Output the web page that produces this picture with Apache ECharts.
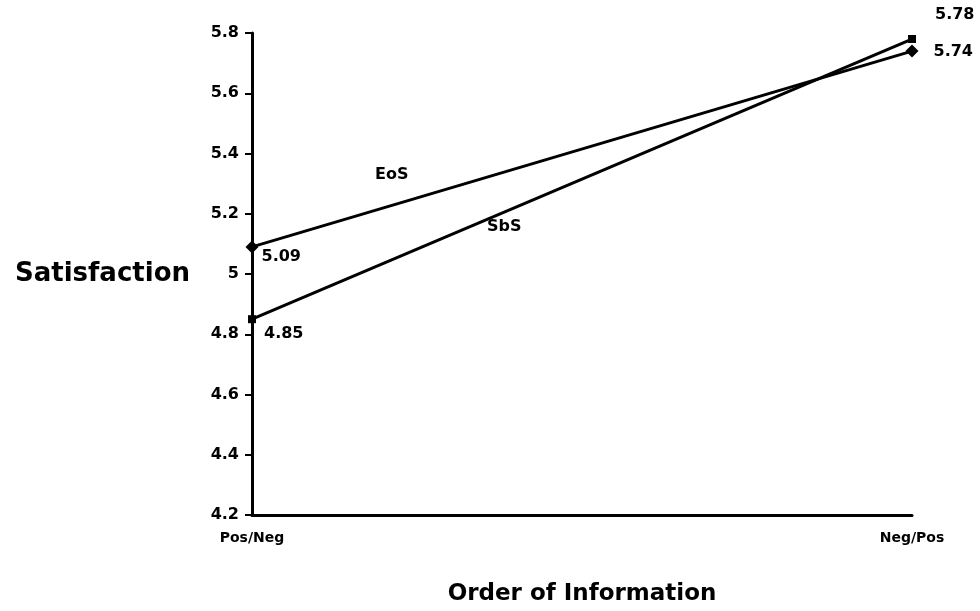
<!DOCTYPE html>
<html>
<head>
<meta charset="utf-8">
<script src="https://cdn.jsdelivr.net/npm/echarts@6/dist/echarts.min.js"></script>
<style>
  html, body { margin: 0; padding: 0; background: #fff; }
  #main { width: 980px; height: 611px; }
</style>
</head>
<body>
<div id="main"></div>
<script>
// 数据
var categories = ['Pos/Neg', 'Neg/Pos'];
var eosValues = [5.09, 5.74];
var sbsValues = [4.85, 5.78];
var yTicks = [4.2, 4.4, 4.6, 4.8, 5, 5.2, 5.4, 5.6, 5.8];

var chart = echarts.init(document.getElementById('main'));
var font = '"DejaVu Sans", sans-serif';

var option = {
    backgroundColor: '#fff',
    animation: false,
    grid: {
        left: 252,
        right: 68,
        top: 33,
        bottom: 96,
        outerBoundsMode: 'none'
    },
    xAxis: {
        type: 'category',
        data: categories,
        boundaryGap: false,
        axisLine: { lineStyle: { color: '#000', width: 3 } },
        axisTick: { show: false },
        axisLabel: {
            color: '#000',
            fontFamily: font,
            fontWeight: 'bold',
            fontSize: 14,
            margin: 16
        },
        name: 'Order of Information',
        nameLocation: 'middle',
        nameGap: 68,
        nameTextStyle: {
            color: '#000',
            fontFamily: font,
            fontWeight: 'bold',
            fontSize: 23
        }
    },
    yAxis: {
        type: 'value',
        min: yTicks[0],
        max: yTicks[yTicks.length - 1],
        interval: 0.2,
        splitLine: { show: false },
        axisLine: { show: true, lineStyle: { color: '#000', width: 3 } },
        axisTick: { show: true, length: 7, lineStyle: { color: '#000', width: 2 } },
        axisLabel: {
            color: '#000',
            fontFamily: font,
            fontWeight: 'bold',
            fontSize: 16,
            margin: 13,
            formatter: function (v) {
                return String(Math.round(v * 10) / 10);
            }
        },
        name: 'Satisfaction',
        nameLocation: 'middle',
        nameRotate: 0,
        nameGap: 62,
        nameTextStyle: {
            color: '#000',
            fontFamily: font,
            fontWeight: 'bold',
            fontSize: 26
        }
    },
    series: [
        {
            name: 'EoS',
            type: 'line',
            data: eosValues,
            symbol: 'diamond',
            symbolSize: 13,
            lineStyle: { color: '#000', width: 3 },
            itemStyle: { color: '#000' },
            label: {
                show: true,
                position: 'right',
                color: '#000',
                fontFamily: font,
                fontWeight: 'bold',
                fontSize: 16,
                formatter: function (p) { return p.value.toFixed(2); }
            },
            labelLayout: function (p) {
                return p.dataIndex === 0 ? { dx: -2, dy: 10 } : { dx: 10, dy: 1 };
            }
        },
        {
            name: 'SbS',
            type: 'line',
            data: sbsValues,
            symbol: 'rect',
            symbolSize: 8,
            lineStyle: { color: '#000', width: 3 },
            itemStyle: { color: '#000' },
            label: {
                show: true,
                position: 'right',
                color: '#000',
                fontFamily: font,
                fontWeight: 'bold',
                fontSize: 16,
                formatter: function (p) { return p.value.toFixed(2); }
            },
            labelLayout: function (p) {
                return p.dataIndex === 0 ? { dx: 3, dy: 15 } : { dx: 14, dy: -24 };
            }
        }
    ],
    graphic: [
        {
            type: 'text',
            left: 375,
            top: 167,
            style: { text: 'EoS', fill: '#000', font: 'bold 16px ' + font }
        },
        {
            type: 'text',
            left: 487,
            top: 219,
            style: { text: 'SbS', fill: '#000', font: 'bold 16px ' + font }
        }
    ]
};

chart.setOption(option);
</script>
</body>
</html>
